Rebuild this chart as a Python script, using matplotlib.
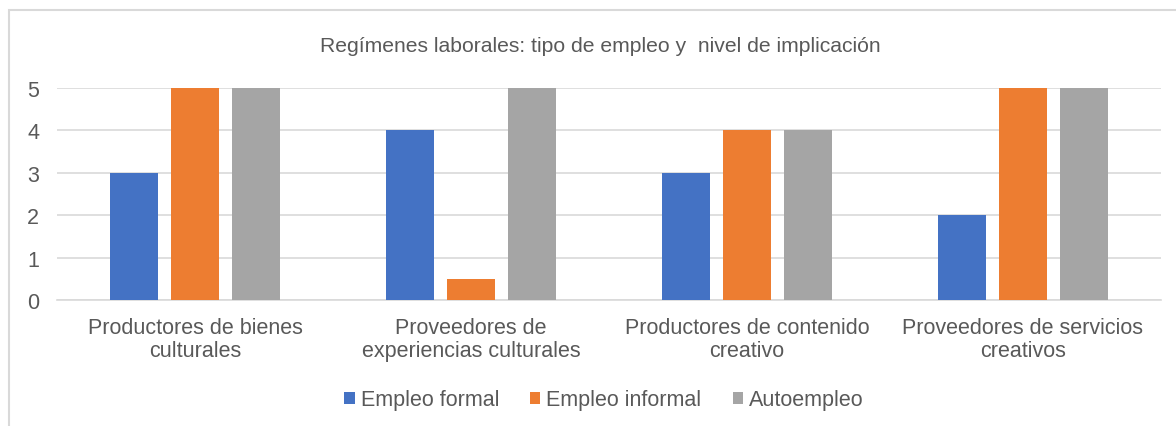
import numpy as np
import matplotlib.pyplot as plt
from matplotlib.patches import Rectangle

categories = ["Productores de bienes\nculturales",
              "Proveedores de\nexperiencias culturales",
              "Productores de contenido\ncreativo",
              "Proveedores de servicios\ncreativos"]
series_names = ["Empleo formal", "Empleo informal", "Autoempleo"]
formal = [3, 4, 3, 2]
informal = [5, 0.5, 4, 5]
autoempleo = [5, 5, 4, 5]
colors = ["#4472C4", "#ED7D31", "#A5A5A5"]
title = "Regímenes laborales: tipo de empleo y  nivel de implicación"

plt.rcParams['font.family'] = ['Liberation Sans', 'DejaVu Sans']
txt = "#595959"
fs = 15.5

fig = plt.figure(figsize=(11.76, 4.27), dpi=100)
ax = fig.add_axes([57 / 1176, 1 - 301 / 427, (1161 - 57) / 1176, (301 - 89) / 427])

# chart border (cut off on the right and bottom in the original)
fig.patches.append(Rectangle((9 / 1176, -0.1), 1.2, 1 - 11 / 427 + 0.1,
                             transform=fig.transFigure, fill=False,
                             edgecolor="#D9D9D9", linewidth=1.5))

x = np.arange(len(categories))
w = 0.174
step = 0.221
for i, (vals, name) in enumerate(zip([formal, informal, autoempleo], series_names)):
    ax.bar(x + (i - 1) * step, vals, w, color=colors[i], label=name, zorder=3)

ax.set_xlim(-0.5, len(categories) - 0.5)
ax.set_ylim(0, 5)
ax.set_yticks(range(6))
ax.yaxis.grid(True, color="#D9D9D9", linewidth=1.2, zorder=0)
ax.set_xticks(x)
ax.set_xticklabels(categories, fontsize=fs, color=txt, linespacing=1.15)
ax.tick_params(axis='y', labelsize=fs, labelcolor=txt, length=0, pad=21.5)
ax.tick_params(axis='x', length=0, pad=12)
for s in ["top", "right", "left"]:
    ax.spines[s].set_visible(False)
ax.spines["bottom"].set_color("#D9D9D9")
ax.spines["bottom"].set_linewidth(1.2)
for lbl in ax.get_yticklabels():
    lbl.set_horizontalalignment("left")

fig.text(600 / 1176, 1 - 46 / 427, title, ha="center", va="center",
         fontsize=15.2, color=txt)

leg = fig.legend(loc="center", bbox_to_anchor=(604 / 1176, 1 - 401 / 427),
                 ncol=3, frameon=False, fontsize=fs, handlelength=0.47,
                 handleheight=0.47, handletextpad=0.28, columnspacing=1.45)
for t in leg.get_texts():
    t.set_color(txt)

fig.savefig("out.png", dpi=100)
